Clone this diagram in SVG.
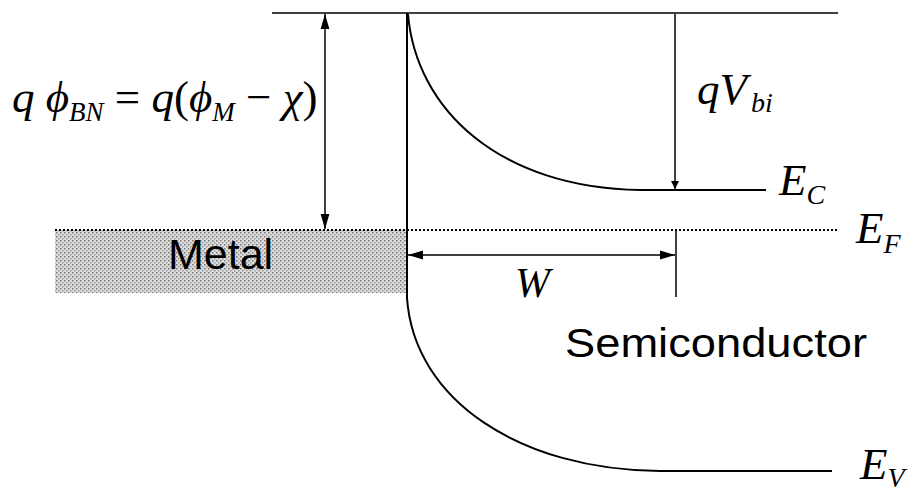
<svg xmlns="http://www.w3.org/2000/svg" width="910" height="493" viewBox="0 0 910 493">
<style>
.ln{stroke:#000;stroke-width:2;fill:none}
.thin{stroke:#000;stroke-width:1.5;fill:none}
.math{font-family:"Liberation Serif",serif;font-style:italic;fill:#000}
.sans{font-family:"Liberation Sans",Arial,sans-serif;fill:#000}
</style>
<defs>
<pattern id="stip" width="4" height="4" patternUnits="userSpaceOnUse">
<rect width="4" height="4" fill="#dcdcdc"/>
<rect x="0" y="0" width="1.5" height="1.5" fill="#777"/>
<rect x="2" y="2" width="1.5" height="1.5" fill="#999"/>
</pattern>
<marker id="ah" viewBox="0 0 10 10" refX="10" refY="5" markerWidth="8" markerHeight="10" markerUnits="userSpaceOnUse" orient="auto-start-reverse" preserveAspectRatio="none">
<path d="M0,1 L10,5 L0,9 z" fill="#000"/>
</marker>
<marker id="ahL" viewBox="0 0 10 10" refX="10" refY="5" markerWidth="15" markerHeight="11" markerUnits="userSpaceOnUse" orient="auto-start-reverse" preserveAspectRatio="none">
<path d="M0,1 L10,5 L0,9 z" fill="#000"/>
</marker>
</defs>
<rect width="910" height="493" fill="#fff"/>
<g id="metal">
<rect x="55" y="230" width="352" height="63" fill="url(#stip)"/>
<text class="sans" x="168" y="269" font-size="43">Metal</text>
</g>
<g id="bands">
<line class="thin" x1="272" y1="13" x2="838" y2="13"/>
<line class="ln" x1="407" y1="13" x2="407" y2="300"/>
<path class="ln" d="M408,14 C416,110 500,188 640,190 L766,190"/>
<path class="ln" d="M407,298 C414,400 520,470 660,471 L832,471"/>
<line x1="55" y1="230" x2="838" y2="230" stroke="#000" stroke-width="2" stroke-dasharray="2,2"/>
</g>
<g id="connectors">
<line class="thin" x1="325" y1="14" x2="325" y2="229" marker-start="url(#ahL)" marker-end="url(#ahL)"/>
<line class="thin" x1="675" y1="14" x2="675" y2="189" marker-end="url(#ah)"/>
<line class="thin" x1="408" y1="255" x2="675" y2="255" marker-start="url(#ahL)" marker-end="url(#ahL)"/>
<line class="thin" x1="676" y1="231" x2="676" y2="297"/>
</g>
<g id="labels">
<text class="math" x="12" y="112" font-size="45">q <tspan>ϕ</tspan><tspan font-size="27" dy="9">BN</tspan><tspan dy="-9" font-style="normal"> = </tspan>q<tspan font-style="normal">(</tspan>ϕ<tspan font-size="27" dy="9">M</tspan><tspan dy="-9" font-style="normal"> − </tspan>χ<tspan font-style="normal">)</tspan></text>
<text class="math" x="697" y="104" font-size="45">qV<tspan font-size="28" dx="4" dy="8">bi</tspan></text>
<text class="math" x="779" y="195" font-size="45">E<tspan font-size="28" dy="9">C</tspan></text>
<text class="math" x="856" y="243" font-size="45">E<tspan font-size="28" dy="10">F</tspan></text>
<text class="math" x="860" y="479" font-size="45">E<tspan font-size="28" dy="8">V</tspan></text>
<text class="math" x="515" y="297" font-size="42">W</text>
<text class="sans" x="565" y="357" font-size="40" textLength="302" lengthAdjust="spacingAndGlyphs">Semiconductor</text>
</g>
</svg>
